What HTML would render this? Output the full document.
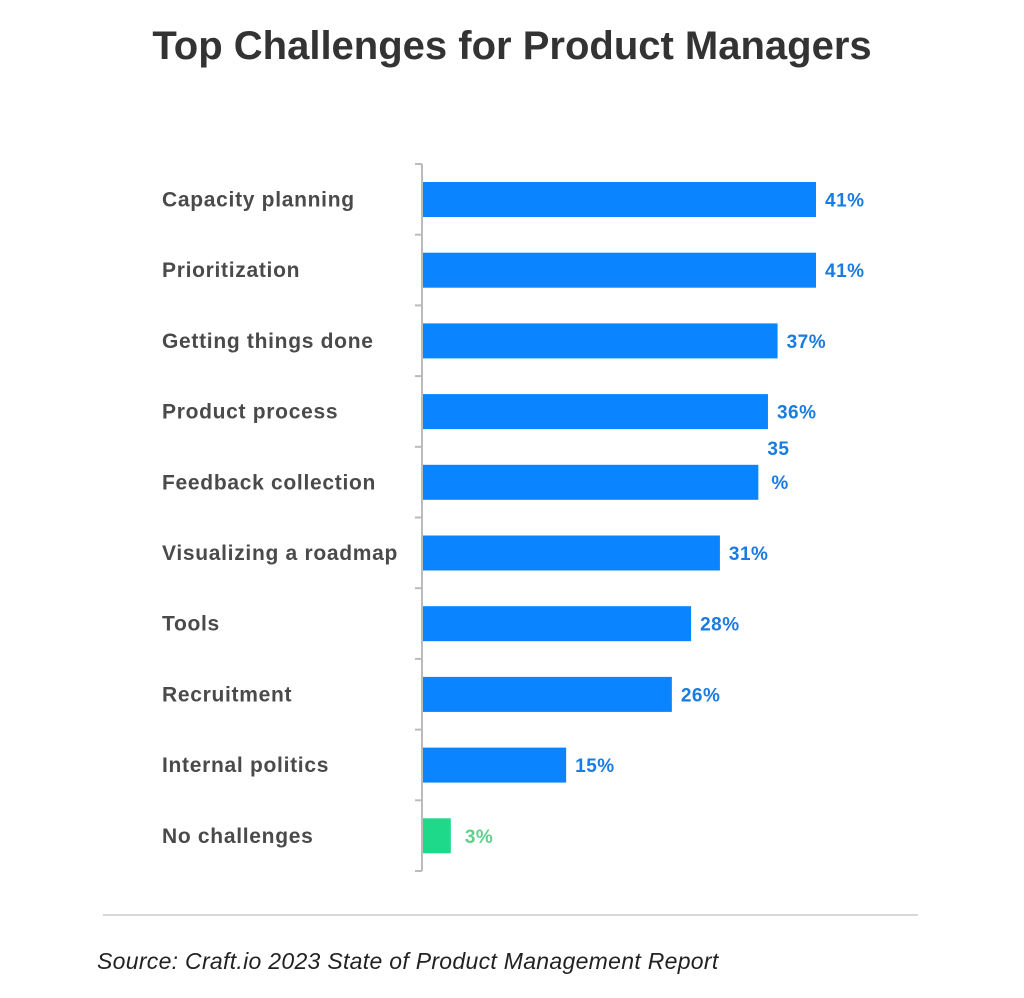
<!DOCTYPE html>
<html><head><meta charset="utf-8">
<style>
body{margin:0;background:#fff;width:1024px;height:993px;overflow:hidden;font-family:"Liberation Sans",sans-serif;}
</style></head>
<body>
<svg id="chart" width="1024" height="993" xmlns="http://www.w3.org/2000/svg">
<text x="512" y="59" text-anchor="middle" font-size="40" font-weight="bold" fill="#333" font-family="Liberation Sans, sans-serif">Top Challenges for Product Managers</text>
<g id="plot"></g>
<line x1="103" y1="915" x2="918" y2="915" stroke="#ccc" stroke-width="1.5"/>
<text x="97" y="969" font-size="23" font-style="italic" letter-spacing="0.3" fill="#222">Source: Craft.io 2023 State of Product Management Report</text>
</svg>
<script>
const categories=["Capacity planning","Prioritization","Getting things done","Product process","Feedback collection","Visualizing a roadmap","Tools","Recruitment","Internal politics","No challenges"];
const values=[41,41,37,36,35,31,28,26,15,3];
const valueLabels=["41%","41%","37%","36%","35%","31%","28%","26%","15%","3%"];
const NS="http://www.w3.org/2000/svg";
const g=document.getElementById('plot');
const x0=422,pxPer=9.61,top0=164,rowH=70.7,barH=35,barOff=18;
const xs=v=>x0+v*pxPer;
const ys=i=>top0+i*rowH;
function mk(t,a){const e=document.createElementNS(NS,t);for(const k in a)e.setAttribute(k,a[k]);g.appendChild(e);return e;}
const ax=mk('line',{x1:x0,y1:top0,x2:x0,y2:ys(categories.length),stroke:'#bbb','stroke-width':2});


for(let i=0;i<=categories.length;i++){
 const t=mk('line',{x1:x0-7,y1:ys(i),x2:x0,y2:ys(i),stroke:'#bbb','stroke-width':2});
 
 
}
categories.forEach((c,i)=>{
 const last=i===categories.length-1;
 const col=last?'#1ed98a':'#0a84ff';
 const r=mk('rect',{x:x0+1,y:ys(i)+barOff,width:xs(values[i])-x0-1,height:barH,fill:col});
 
 
 const l=mk('text',{x:162,y:ys(i)+barOff+barH/2+7,'font-size':21,'letter-spacing':0.7,'font-weight':'bold',fill:'#4a4a4a'});
 l.textContent=c;
 
 
 const vt=mk('text',{x:xs(values[i])+(last?14:9),y:ys(i)+barOff+barH/2+7,'font-size':19,'letter-spacing':0.5,'font-weight':'bold',fill:last?'#5fd08a':'#1a7be0'});
 
 
 if(values[i]===35){
  vt.setAttribute('y',ys(i)+barOff-10);
  const a=document.createElementNS(NS,'tspan');a.textContent=valueLabels[i].replace('%','');vt.appendChild(a);
  const b=document.createElementNS(NS,'tspan');b.setAttribute('x',xs(values[i])+13);b.setAttribute('dy',34);b.textContent='%';vt.appendChild(b);
 } else vt.textContent=valueLabels[i];
});
</script>
</body></html>
